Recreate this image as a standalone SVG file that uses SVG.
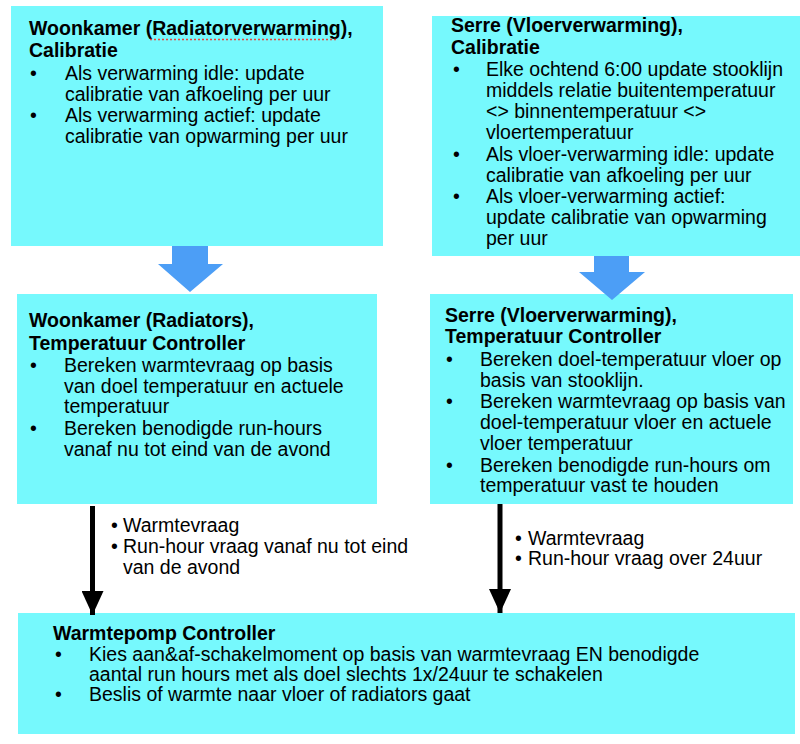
<svg xmlns="http://www.w3.org/2000/svg" width="800" height="744" viewBox="0 0 800 744">
<style>
.box{fill:#76F9FD;}
.t{font-family:"Liberation Sans",Arial,Helvetica,sans-serif;font-size:19.5px;fill:#000;}
.b{font-weight:bold;}
.blue{fill:#4C9EF6;}
</style>
<defs>
<marker id="ah" markerUnits="userSpaceOnUse" markerWidth="24" markerHeight="22" refX="24" refY="11" orient="auto">
<path d="M0,0 L24,11 L0,22 Z" fill="#000"/>
</marker>
</defs>
<rect width="800" height="744" fill="#fff"/>

<g id="woonkamer-calibratie">
<rect class="box" x="11" y="6" width="372" height="240"/>
<text class="t b" x="29" y="35">Woonkamer (Radiatorverwarming),</text>
<line x1="150" y1="39.5" x2="338" y2="39.5" stroke="#E8453C" stroke-width="1.5" stroke-dasharray="2,2"/>
<text class="t b" x="29" y="57">Calibratie</text>
<text class="t" x="30" y="80">•</text>
<text class="t" x="65" y="80">Als verwarming idle: update</text>
<text class="t" x="65" y="101">calibratie van afkoeling per uur</text>
<text class="t" x="30" y="122">•</text>
<text class="t" x="65" y="122">Als verwarming actief: update</text>
<text class="t" x="65" y="143">calibratie van opwarming per uur</text>
</g>

<g id="serre-calibratie">
<rect class="box" x="432" y="16" width="368" height="240"/>
<text class="t b" x="451" y="32">Serre (Vloerverwarming),</text>
<text class="t b" x="451" y="54">Calibratie</text>
<text class="t" x="453" y="76">•</text>
<text class="t" x="486" y="76">Elke ochtend 6:00 update stooklijn</text>
<text class="t" x="486" y="97">middels relatie buitentemperatuur</text>
<text class="t" x="486" y="118">&lt;&gt; binnentemperatuur &lt;&gt;</text>
<text class="t" x="486" y="139">vloertemperatuur</text>
<text class="t" x="453" y="161">•</text>
<text class="t" x="486" y="161">Als vloer-verwarming idle: update</text>
<text class="t" x="486" y="182">calibratie van afkoeling per uur</text>
<text class="t" x="453" y="203">•</text>
<text class="t" x="486" y="203">Als vloer-verwarming actief:</text>
<text class="t" x="486" y="224">update calibratie van opwarming</text>
<text class="t" x="486" y="245">per uur</text>
</g>

<g id="woonkamer-controller">
<rect class="box" x="17" y="294" width="360" height="210"/>
<text class="t b" x="29" y="327">Woonkamer (Radiators),</text>
<text class="t b" x="29" y="350">Temperatuur Controller</text>
<text class="t" x="30" y="372">•</text>
<text class="t" x="64" y="372">Bereken warmtevraag op basis</text>
<text class="t" x="64" y="393">van doel temperatuur en actuele</text>
<text class="t" x="64" y="413">temperatuur</text>
<text class="t" x="30" y="435">•</text>
<text class="t" x="64" y="435">Bereken benodigde run-hours</text>
<text class="t" x="64" y="456">vanaf nu tot eind van de avond</text>
</g>

<g id="serre-controller">
<rect class="box" x="430" y="294" width="363" height="210"/>
<text class="t b" x="445" y="322">Serre (Vloerverwarming),</text>
<text class="t b" x="445" y="343">Temperatuur Controller</text>
<text class="t" x="446" y="366">•</text>
<text class="t" x="480" y="366">Bereken doel-temperatuur vloer op</text>
<text class="t" x="480" y="387">basis van stooklijn.</text>
<text class="t" x="446" y="408">•</text>
<text class="t" x="480" y="408">Bereken warmtevraag op basis van</text>
<text class="t" x="480" y="429">doel-temperatuur vloer en actuele</text>
<text class="t" x="480" y="450">vloer temperatuur</text>
<text class="t" x="446" y="472">•</text>
<text class="t" x="480" y="472">Bereken benodigde run-hours om</text>
<text class="t" x="480" y="492">temperatuur vast te houden</text>
</g>

<g id="warmtepomp-controller">
<rect class="box" x="18" y="613" width="777" height="121"/>
<text class="t b" x="53" y="640">Warmtepomp Controller</text>
<text class="t" x="55" y="661">•</text>
<text class="t" x="89" y="661">Kies aan&amp;af-schakelmoment op basis van warmtevraag EN benodigde</text>
<text class="t" x="89" y="681">aantal run hours met als doel slechts 1x/24uur te schakelen</text>
<text class="t" x="55" y="701">•</text>
<text class="t" x="89" y="701">Beslis of warmte naar vloer of radiators gaat</text>
</g>

<g id="connectors">
<polygon class="blue" points="172,246 208,246 208,264 223,264 190,292 158,264 172,264"/>
<polygon class="blue" points="594,256 629,256 629,272 645,272 612,300 579,272 594,272"/>
<line x1="92.5" y1="506" x2="92.5" y2="615" stroke="#000" stroke-width="5" marker-end="url(#ah)"/>
<line x1="500" y1="504" x2="500" y2="613" stroke="#000" stroke-width="5" marker-end="url(#ah)"/>
<g id="label-left">
<text class="t" x="111" y="532">•</text>
<text class="t" x="123" y="532">Warmtevraag</text>
<text class="t" x="111" y="553">•</text>
<text class="t" x="123" y="553">Run-hour vraag vanaf nu tot eind</text>
<text class="t" x="123" y="574">van de avond</text>
</g>
<g id="label-right">
<text class="t" x="515" y="545">•</text>
<text class="t" x="528" y="545">Warmtevraag</text>
<text class="t" x="515" y="565">•</text>
<text class="t" x="528" y="565">Run-hour vraag over 24uur</text>
</g>
</g>
</svg>
